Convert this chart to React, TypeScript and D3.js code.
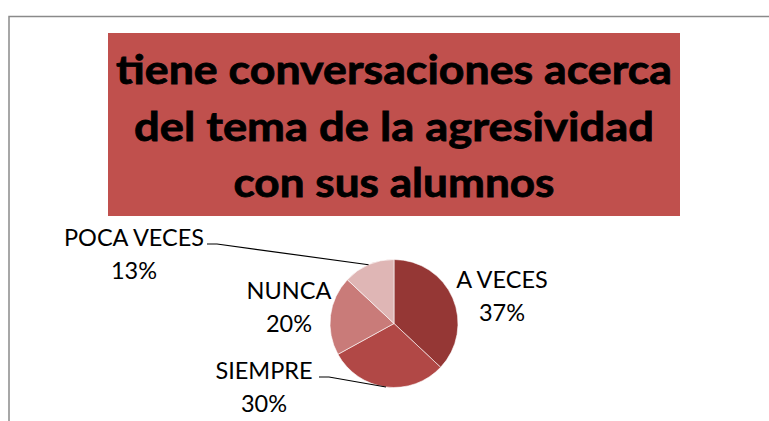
import React from "react";
import * as d3 from "d3";

const categories = ["A VECES", "SIEMPRE", "NUNCA", "POCA VECES"];
const values = [37, 30, 20, 13];
const colors = ["#953735", "#B14846", "#C97B79", "#DFB6B5"];
const titleLines = ["tiene conversaciones acerca", "del tema de la agresividad", "con sus alumnos"];

// label layout: [center x, first baseline]
const labelPos: [number, number][] = [
  [502, 288],
  [264, 379],
  [289, 299],
  [134, 246],
];
const leaders = [false, true, false, true];

const W = 769, H = 421;
const cx = 394, cy = 323.5, R = 64;

export default function App() {
  const pie = d3.pie<number>().sort(null).value((d) => d)(values);
  const arc = d3.arc<d3.PieArcDatum<number>>().innerRadius(0).outerRadius(R);
  const edge = d3.arc<d3.PieArcDatum<number>>().innerRadius(R).outerRadius(R);
  const font = "Lato, 'Open Sans', sans-serif";
  const titleWidths = [556, 520, 321];
  const total = d3.sum(values);
  return (
    <svg width={W} height={H} style={{ position: "absolute", left: 0, top: 0 }}>
      <rect x={0} y={0} width={W} height={H} fill="#fff" />
      <path d={`M9,${H + 5} V16.5 H${W + 5}`} fill="none" stroke="#8a8a8a" strokeWidth={1.5} />
      <rect x={108} y={33} width={572} height={183} fill="#C0504D" />
      {titleLines.map((t, i) => (
        <text
          key={i}
          x={394}
          y={84 + i * 56.5}
          textAnchor="middle"
          fontFamily={font}
          fontWeight="bold"
          fontSize={40}
          textLength={titleWidths[i]}
          lengthAdjust="spacingAndGlyphs"
          fill="#000"
          stroke="#000"
          strokeWidth={0.8}
        >
          {t}
        </text>
      ))}
      <g transform={`translate(${cx},${cy})`}>
        {pie.map((p, i) => (
          <path key={i} d={arc(p) || ""} fill={colors[i]} stroke="#fff" strokeWidth={0.6} />
        ))}
      </g>
      {pie.map((p, i) => {
        if (!leaders[i]) return null;
        const [ex, ey] = edge.centroid(p);
        const [lx, ly] = labelPos[i];
        const left = i === 3 ? lx + 73 : lx + 55;
        const yy = ly - 2;
        return (
          <polyline
            key={i}
            points={`${left},${yy} ${left + 10},${yy} ${cx + ex},${cy + ey}`}
            fill="none"
            stroke="#000"
            strokeWidth={1.2}
          />
        );
      })}
      {pie.map((p, i) => {
        const [lx, ly] = labelPos[i];
        const pct = Math.round((values[i] / total) * 100) + "%";
        return (
          <g key={i} fontFamily={font} fontSize={23.5} fill="#000" textAnchor="middle">
            <text x={lx} y={ly}>{categories[i]}</text>
            <text x={lx} y={ly + 33}>{pct}</text>
          </g>
        );
      })}
    </svg>
  );
}
